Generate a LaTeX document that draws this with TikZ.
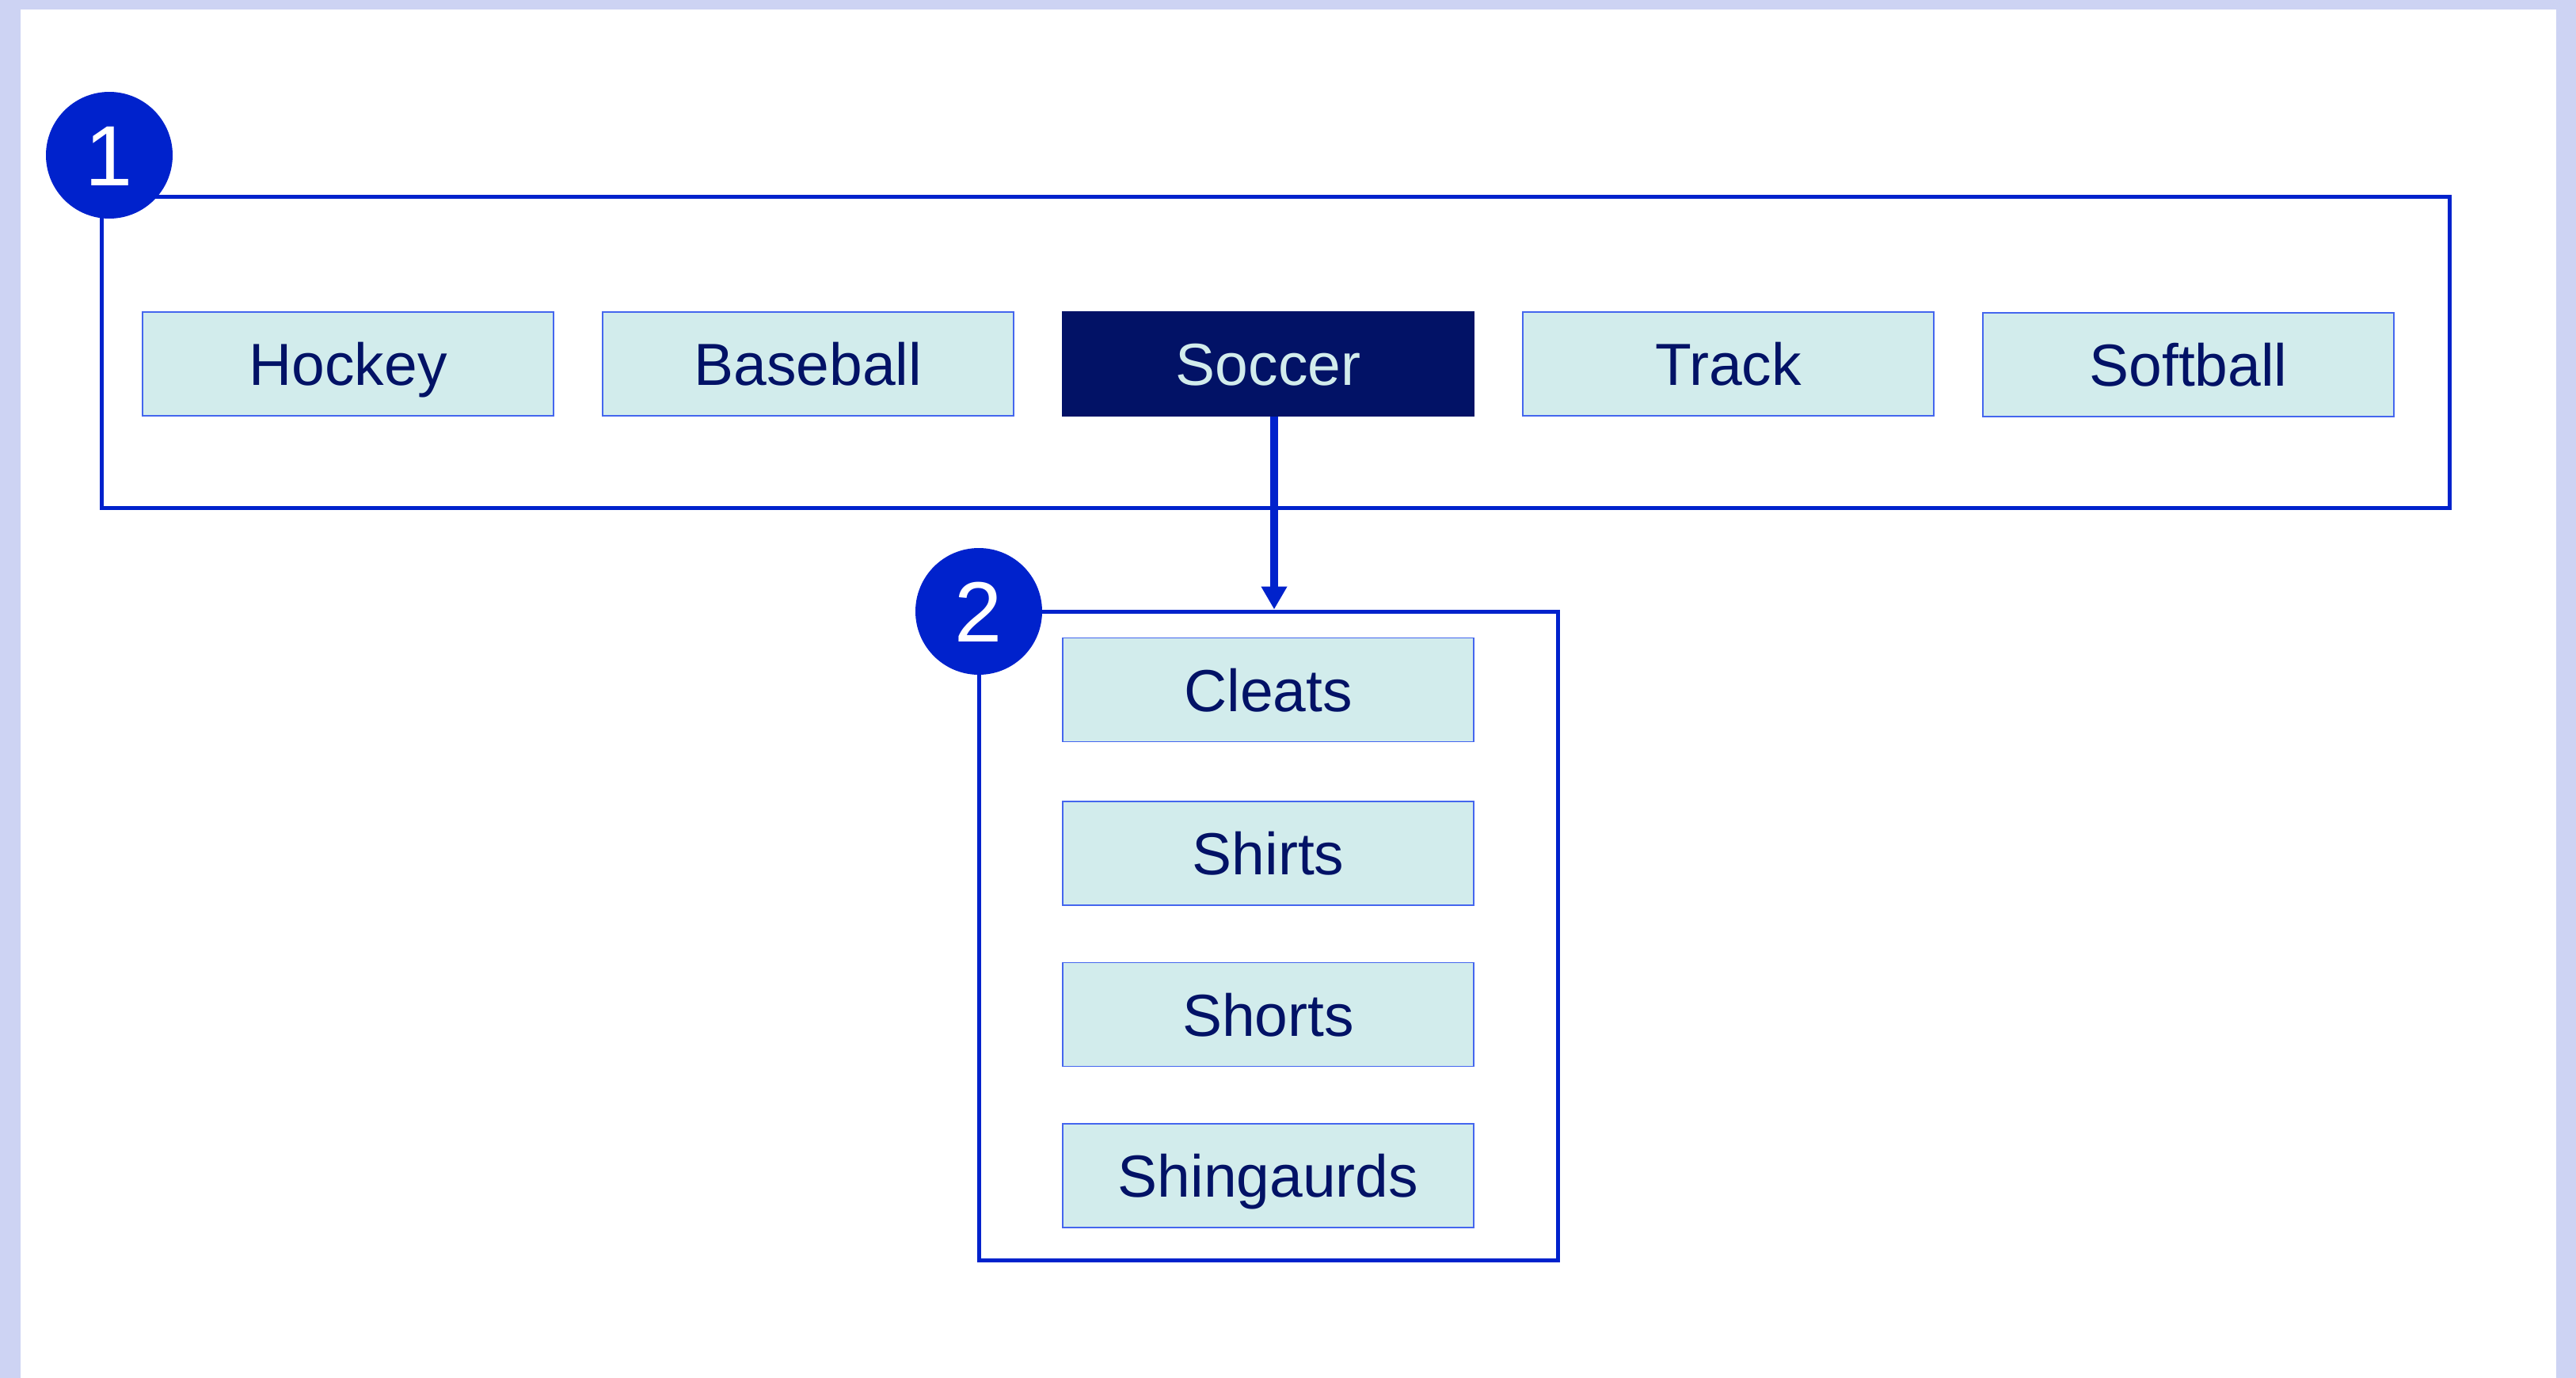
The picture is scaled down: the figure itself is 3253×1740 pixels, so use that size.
\documentclass[tikz,border=0pt]{standalone}
\usepackage{fontspec}
\setmainfont{Liberation Sans}
\usetikzlibrary{arrows.meta}
\definecolor{lav}{HTML}{CDD3F3}
\definecolor{bblue}{HTML}{0022CC}
\definecolor{navy}{HTML}{021266}
\definecolor{itemfill}{HTML}{D2ECEC}
\definecolor{itemline}{HTML}{4466EE}
\tikzset{
  item/.style={draw=itemline, line width=1.5pt, fill=itemfill, text=navy,
    minimum width=519pt, minimum height=131pt, inner sep=0pt,
    font=\fontsize{75}{90}\selectfont, text height=54pt, text depth=0pt},
  itemsel/.style={item, fill=navy, draw=navy, text=itemfill},
  groupbox/.style={draw=bblue, line width=5pt, inner sep=0pt},
  badge/.style={circle, fill=bblue, text=white, minimum size=160pt, inner sep=0pt,
    font=\fontsize{108}{130}\selectfont, text height=77pt, text depth=0pt},
  link/.style={draw=bblue, line width=10pt, -{Triangle[length=29pt,width=31pt]}}
}
\begin{document}
\begin{tikzpicture}[x=1pt,y=-1pt]
\useasboundingbox (0,0) rectangle (3253,1740);
\fill[lav] (0,0) rectangle (3253,1740);
\fill[white] (26,12) rectangle (3228,1740);
% group 1
\node[groupbox, minimum width=2965pt, minimum height=393pt] (grp1) at (1610.5,444.5) {};
\node[item] (hockey) at (439.5,459.5) {Hockey};
\node[item] (baseball) at (1020.5,459.5) {Baseball};
\node[itemsel] (soccer) at (1601.5,459.5) {Soccer};
\node[item] (track) at (2182.5,459.5) {Track};
\node[item] (softball) at (2763.5,460.5) {Softball};
% group 2
\node[groupbox, minimum width=731pt, minimum height=819pt] (grp2) at (1601.5,1181.5) {};
\node[item] (cleats) at (1601.5,871) {Cleats};
\node[item] (shirts) at (1601.5,1077.5) {Shirts};
\node[item] (shorts) at (1601.5,1281) {Shorts};
\node[item] (shingaurds) at (1601.5,1484.5) {Shingaurds};
% connector
\draw[link] ([xshift=7.5pt]soccer.south) -- ([xshift=7.5pt]grp2.north);
% badges
\node[badge] (b1) at (138,196) {1};
\node[badge] (b2) at (1236,772) {2};
\end{tikzpicture}
\end{document}
